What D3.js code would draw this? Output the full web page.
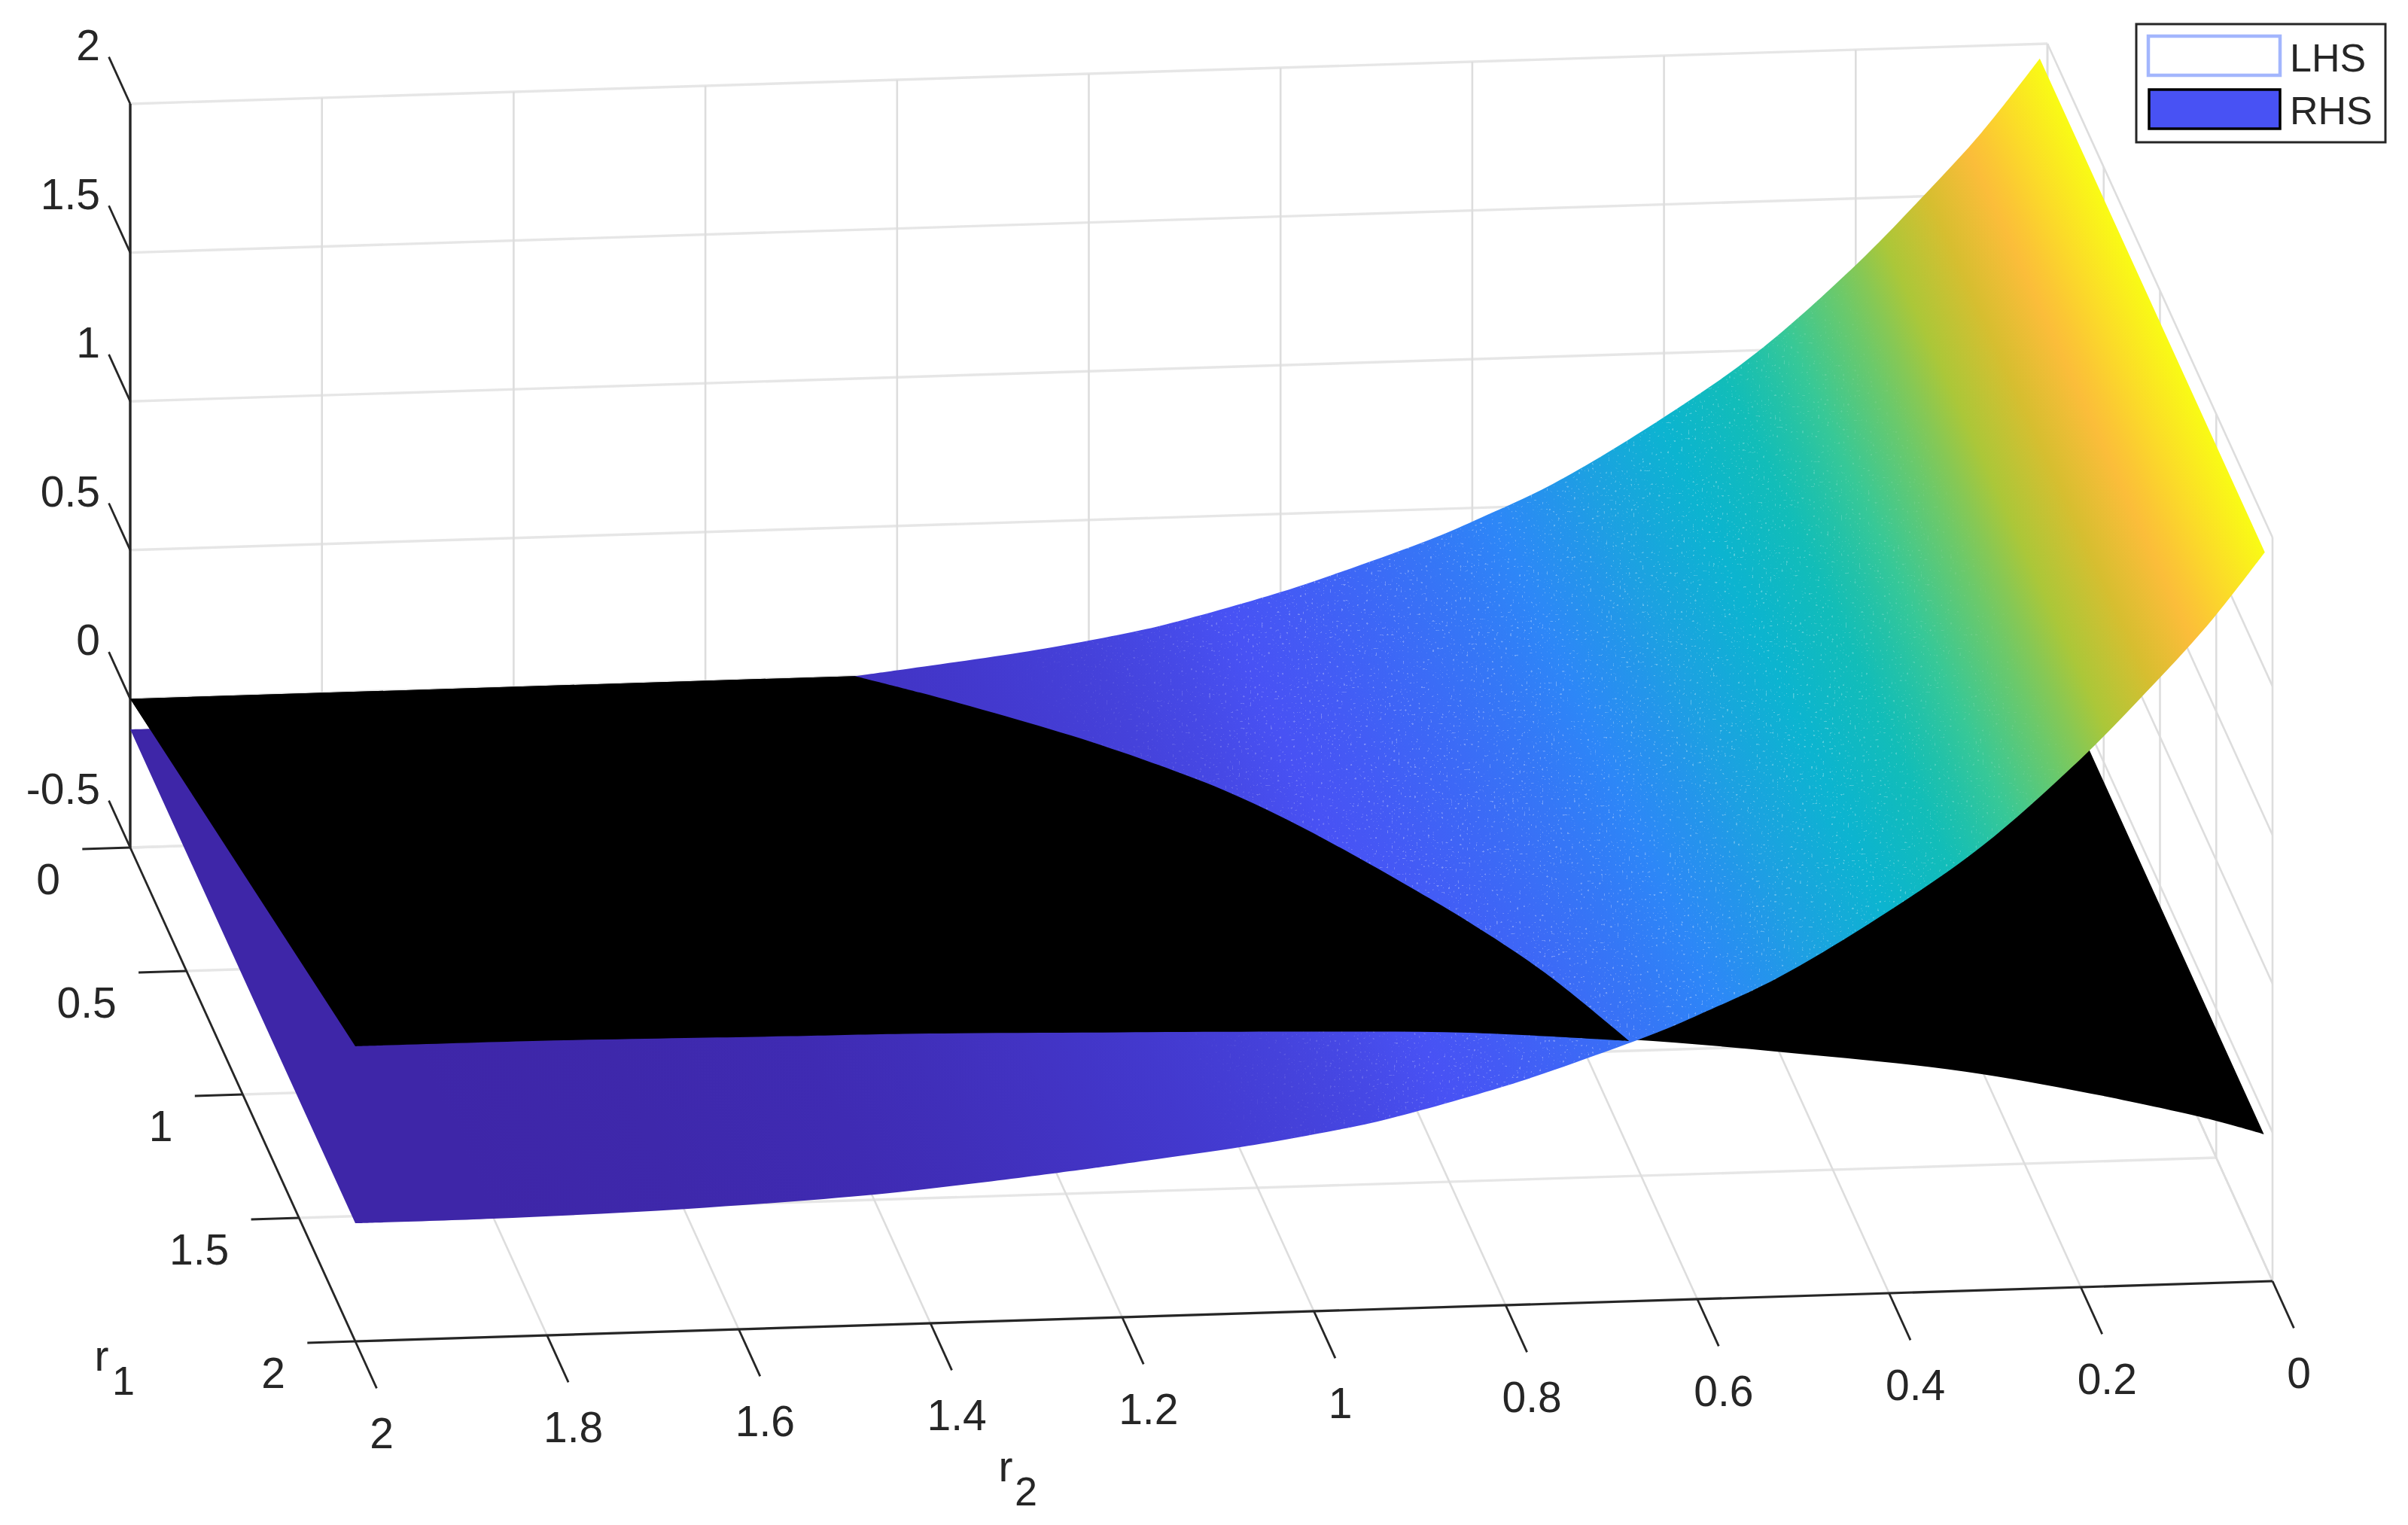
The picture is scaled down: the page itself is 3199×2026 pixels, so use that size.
<!DOCTYPE html>
<html><head><meta charset="utf-8">
<style>html,body{margin:0;padding:0;background:#fff}svg{display:block}text{font-family:"Liberation Sans",Arial,sans-serif;fill:#262626}</style>
<script src="https://cdn.jsdelivr.net/npm/d3@7/dist/d3.min.js"></script>
</head><body><svg id="c" width="3199" height="2026"></svg>
<script>
// tick values
const r1Ticks=[0,0.5,1,1.5,2];
const r2Ticks=[0,0.2,0.4,0.6,0.8,1,1.2,1.4,1.6,1.8,2];
const zTicks=[-0.5,0,0.5,1,1.5,2];
// LHS surface: height against r2 (the same along r1)
const lhsR2=[2,1.856,1.656,1.456,1.35,1.244,1.2,1.063,0.999,0.928,0.799,0.726,0.644,0.597,0.516,0.401,0.303,0.199,0.134,0.069,0.008];
const lhsZ=[-0.103,-0.102,-0.09,-0.061,-0.033,0,0.015,0.065,0.095,0.135,0.238,0.31,0.398,0.458,0.572,0.783,0.993,1.279,1.486,1.707,1.951];
// RHS surface: edge at r1 = 2
const rhsR2=[2,1.815,1.656,1.546,1.428,1.2,1,0.839,0.671,0.512,0.302,0.079,0.009];
const rhsZ=[0.492,0.491,0.485,0.48,0.476,0.458,0.44,0.42,0.38,0.322,0.226,0.063,-0.005];
// Where RHS rises above LHS
const ridgeR1=[0,0.1,0.195,0.34,0.515,0.66,0.826,1.015,1.217,1.385,1.655,2];
const ridgeR2=[1.244,1.188,1.132,1.058,0.989,0.938,0.89,0.845,0.801,0.767,0.718,0.671];
const ridgeZ=[0,0.022,0.036,0.063,0.104,0.135,0.167,0.204,0.243,0.276,0.322,0.375];
// Colormap nodes
const parula=["#3e26a8","#4339ce","#4852f4","#3b6cf6","#2d87f7","#1da0e2","#0cb4d0","#12bdb8","#37c897","#6cc96a","#abc739","#d6be30","#fbbd3a","#fbdc28","#f9fb15"];
// How strongly the surface shows its fine light speckle, by height
const speckleZ=[-0.1,0.05,0.25,0.8,1.1,1.3,2];
const speckleAmount=[0,0,1,1,0.45,0,0];
const legendLabels=["LHS","RHS"];
const legendFill="#4852f4";

const svg=d3.select("#c");
const ox=173,oy=1126;
const r1X=d3.scaleLinear([0,2],[0,299]), r1Y=d3.scaleLinear([0,2],[0,656]);
const r2X=d3.scaleLinear([2,0],[0,2547]), r2Y=d3.scaleLinear([2,0],[0,-80]);
const zY=d3.scaleLinear([-0.5,2],[0,-988]);
const P=(r1,r2,z)=>[ox+r1X(r1)+r2X(r2), oy+r1Y(r1)+r2Y(r2)+zY(z)];
const line=d3.line();
const curve=d3.line().curve(d3.curveCatmullRom.alpha(0.5));
const seg=(g,a,b)=>g.append("path").attr("d",line([P(...a),P(...b)]));

// grid
const gridH=svg.append("g").attr("fill","none").attr("stroke","#e6e6e6").attr("stroke-width",3.4);
const gridV=svg.append("g").attr("fill","none").attr("stroke","#dddddd").attr("stroke-width",2.6);
zTicks.forEach(z=>{seg(gridH,[0,2,z],[0,0,z]);seg(gridV,[0,0,z],[2,0,z]);});
r2Ticks.forEach(r=>{seg(gridV,[0,r,-0.5],[0,r,2]);seg(gridV,[0,r,-0.5],[2,r,-0.5]);});
r1Ticks.forEach(r=>{seg(gridV,[r,0,-0.5],[r,0,2]);seg(gridH,[r,2,-0.5],[r,0,-0.5]);});

// axes
const ax=svg.append("g").attr("fill","none").attr("stroke","#262626").attr("stroke-width",2.8);
seg(ax,[0,2,-0.5],[0,2,2]).attr("stroke-width",3.4);
seg(ax,[0,2,-0.5],[2,2,-0.5]);
seg(ax,[2,2,-0.5],[2,0,-0.5]).attr("stroke-width",3.2);
const tickLen=0.19;
zTicks.forEach(z=>seg(ax,[0,2,z],[-tickLen,2,z]));
r1Ticks.forEach(r=>seg(ax,[r,2,-0.5],[r,2.05,-0.5]));
r2Ticks.forEach(r=>seg(ax,[2,r,-0.5],[2+tickLen,r,-0.5]));

// labels
const fs=57;
const lab=svg.append("g").attr("font-size",fs);
zTicks.forEach(z=>{const p=P(0,2,z);lab.append("text").attr("x",p[0]-40).attr("y",p[1]-78).attr("text-anchor","end").attr("dominant-baseline","central").text(z);});
r1Ticks.forEach(r=>{const p=P(r,2,-0.5);lab.append("text").attr("x",p[0]-93).attr("y",p[1]+42).attr("text-anchor","end").attr("dominant-baseline","central").text(r);});
r2Ticks.forEach(r=>{const p=P(2,r,-0.5);lab.append("text").attr("x",p[0]+35).attr("y",p[1]+122).attr("text-anchor","middle").attr("dominant-baseline","central").text(r);});
lab.append("text").attr("x",135).attr("y",1821).attr("text-anchor","middle").text("r");
lab.append("text").attr("x",164).attr("y",1853).attr("text-anchor","middle").attr("font-size",54).text("1");
lab.append("text").attr("x",1336).attr("y",1968).attr("text-anchor","middle").text("r");
lab.append("text").attr("x",1363).attr("y",2000).attr("text-anchor","middle").attr("font-size",54).text("2");

// colour by height
const zMin=d3.min(lhsZ), zMax=d3.max(lhsZ);
const colorZ=parula.map((_,i)=>zMin+(zMax-zMin)*i/(parula.length-1));
const color=d3.scaleLinear(colorZ,parula);
const a=[r1X(2)-r1X(0), r1Y(2)-r1Y(0)], al=Math.hypot(...a);
const n=[a[1]/al,-a[0]/al];
const sts=lhsR2.map((r,i)=>P(0,r,lhsZ[i]));
const proj=s=>(s[0]-sts[0][0])*n[0]+(s[1]-sts[0][1])*n[1];
const L=proj(sts[sts.length-1]);
const offs=sts.map(s=>proj(s)/L);
const tOfZ=d3.scaleLinear(lhsZ,offs);
const stops=d3.sort([...lhsZ.map((z,i)=>({o:offs[i],c:color(z)})),...colorZ.map((z,i)=>({o:tOfZ(z),c:parula[i]}))],d=>d.o);
const defs=svg.append("defs");
const gradAttrs=g=>g.attr("gradientUnits","userSpaceOnUse").attr("x1",sts[0][0]).attr("y1",sts[0][1]).attr("x2",sts[0][0]+n[0]*L).attr("y2",sts[0][1]+n[1]*L);
const grad=defs.append("linearGradient").attr("id","lhsGrad").call(gradAttrs);
grad.selectAll("stop").data(stops).join("stop").attr("offset",d=>d.o).attr("stop-color",d=>d.c);
const sGrad=defs.append("linearGradient").attr("id","speckleGrad").call(gradAttrs);
sGrad.selectAll("stop").data(speckleZ).join("stop").attr("offset",z=>tOfZ(Math.min(z,zMax))).attr("stop-color","#fff").attr("stop-opacity",(z,i)=>speckleAmount[i]);

const join=(...parts)=>parts.map((s,i)=>i?s.replace(/^M/,"L"):s).join("")+"Z";
const rhsEdge=rhsR2.map((r,i)=>P(2,r,rhsZ[i]));

// RHS, whole sheet
svg.append("path").attr("fill","#000").attr("d",join(
  line([P(0,2,0),P(0,rhsR2[rhsR2.length-1],0),P(2,rhsR2[rhsR2.length-1],rhsZ[rhsZ.length-1])]),
  curve(rhsEdge.slice().reverse())));
// LHS surface
const lhsBack=lhsR2.map((r,i)=>P(0,r,lhsZ[i]));
const lhsFront=lhsR2.map((r,i)=>P(2,r,lhsZ[i]));
const lhsD=join(curve(lhsBack),curve(lhsFront.slice().reverse()));
svg.append("path").attr("fill","url(#lhsGrad)").attr("d",lhsD);
// fine light speckle of the dense mesh
const f=defs.append("filter").attr("id","speckle").attr("x",0).attr("y",0).attr("width",1).attr("height",1).attr("color-interpolation-filters","sRGB");
f.append("feTurbulence").attr("type","fractalNoise").attr("baseFrequency",0.33).attr("numOctaves",1).attr("seed",4);
f.append("feColorMatrix").attr("values","0 0 0 0 1  0 0 0 0 1  0 0 0 0 1  14 0 0 0 -9.3");
defs.append("clipPath").attr("id","lhsClip").append("path").attr("d",lhsD);
defs.append("mask").attr("id","speckleMask").attr("maskUnits","userSpaceOnUse").attr("x",0).attr("y",0).attr("width",3199).attr("height",2026)
  .append("rect").attr("width",3199).attr("height",2026).attr("fill","url(#speckleGrad)");
svg.append("g").attr("clip-path","url(#lhsClip)").attr("mask","url(#speckleMask)").attr("opacity",0.3)
  .append("rect").attr("x",1100).attr("y",300).attr("width",1700).attr("height",1400).attr("filter","url(#speckle)");
// RHS, the part above LHS
const ridge=ridgeR1.map((r,i)=>P(r,ridgeR2[i],ridgeZ[i]));
const k=rhsR2.findIndex(r=>r<=ridgeR2[ridgeR2.length-1]);
const frontLeft=[ridge[ridge.length-1],...rhsEdge.slice(0,k).reverse()];
svg.append("path").attr("fill","#000").attr("d",join(
  line([P(0,2,0),ridge[0]]),curve(ridge),curve(frontLeft)));

// legend
const lg=svg.append("g");
lg.append("rect").attr("x",2838).attr("y",32).attr("width",331).attr("height",157).attr("fill","#fff").attr("stroke","#262626").attr("stroke-width",3);
lg.append("rect").attr("x",2854).attr("y",48).attr("width",175).attr("height",52).attr("fill","#fff").attr("stroke","#a3b6fd").attr("stroke-width",4.5);
lg.append("rect").attr("x",2855).attr("y",119).attr("width",174).attr("height",52).attr("fill",legendFill).attr("stroke","#000").attr("stroke-width",3.5);
legendLabels.forEach((t,i)=>lg.append("text").attr("x",3042).attr("y",77+70*i).attr("font-size",52).attr("dominant-baseline","central").text(t));
</script></body></html>
